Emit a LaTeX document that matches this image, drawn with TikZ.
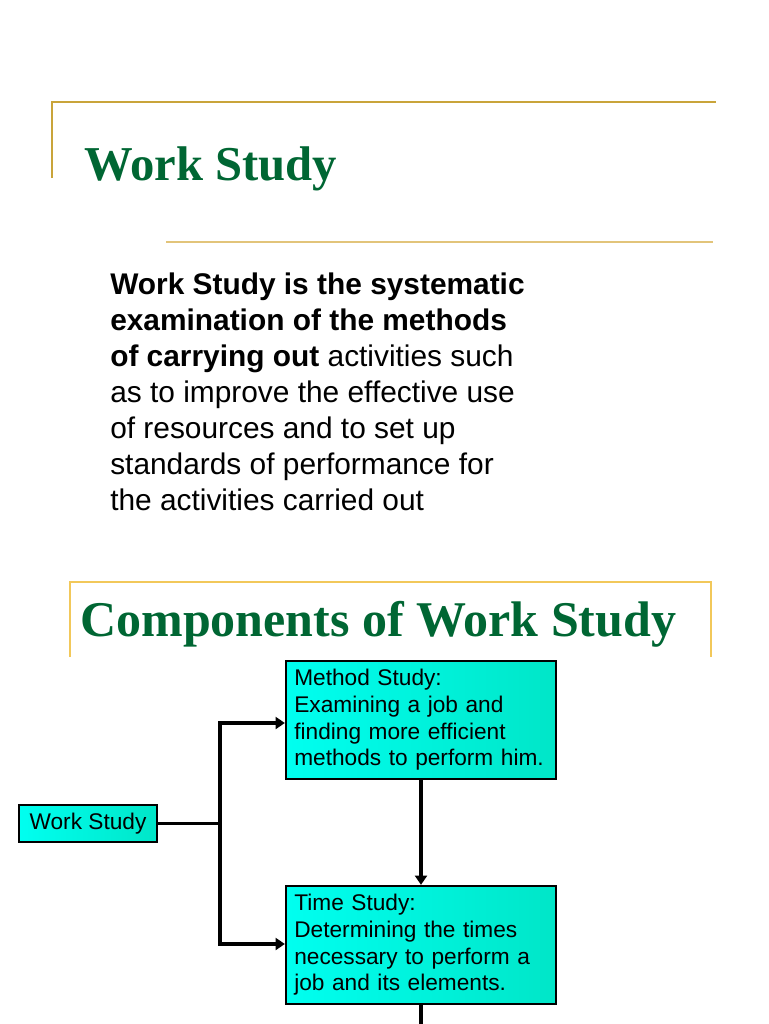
\documentclass[tikz,border=0pt]{standalone}
\usepackage{fontspec}
\setmainfont{Liberation Serif}
\setsansfont{Liberation Sans}
\usetikzlibrary{arrows.meta}
\definecolor{goldA}{HTML}{C9A43A}
\definecolor{goldB}{HTML}{E2C47A}
\definecolor{goldC}{HTML}{F2C85A}
\definecolor{titlegreen}{HTML}{006633}
\definecolor{cyanL}{HTML}{00FFF0}
\definecolor{cyanR}{HTML}{00E6C8}
\tikzset{
  cbox/.style={draw=black, line width=1.7pt, left color=cyanL, right color=cyanR,
    rectangle, inner sep=0pt, font=\sffamily\fontsize{17}{20}\selectfont, align=left},
  conn/.style={line width=2.6pt, line cap=rect},
  arr/.style={line width=2.6pt, -{Triangle[length=7pt,width=9pt]}},
  heading/.style={font=\bfseries\fontsize{36.5}{40}\selectfont, text=titlegreen, inner sep=0pt, anchor=base west},
}
\begin{document}
\begin{tikzpicture}[x=0.75pt,y=-0.75pt]
\useasboundingbox (0,0) rectangle (768,1024);
% top frame
\draw[goldA, line width=1.6pt] (52,178) -- (52,102) -- (716,102);
\draw[goldB, line width=1.6pt] (166,242) -- (713,242);
\node[heading] (t1) at (84,180) {Work Study};
% body text
\node[anchor=north west, inner sep=0pt, align=left, font=\sffamily\fontsize{22.4}{27}\selectfont] (body) at (110,273)
 {\textbf{Work Study is the systematic}\\
  \textbf{examination of the methods}\\
  \textbf{of carrying out} activities such\\
  as to improve the effective use\\
  of resources and to set up\\
  standards of performance for\\
  the activities carried out};
% second frame
\draw[goldC, line width=0.8pt] (70,657) -- (70,582) -- (711,582) -- (711,657);
\node[heading, font=\bfseries\fontsize{37.5}{42}\selectfont] (t2) at (80,636) {Components of Work Study};
% boxes
\node[cbox, minimum width=103.5pt, minimum height=27.75pt, align=center] (ws) at (88,823.5) {Work Study};
\node[cbox, minimum width=202.5pt, minimum height=88.5pt, text width=190pt] (ms) at (421,720)
 {Method Study:\\Examining a job and\\finding more efficient\\methods to perform him.};
\node[cbox, minimum width=202.5pt, minimum height=88.5pt, text width=190pt] (ts) at (421,945)
 {Time Study:\\Determining the times\\necessary to perform a\\job and its elements.};
\coordinate (br) at (220,823.5);
\coordinate (end) at (421,1030);
% connectors
\draw[conn] (ws.east) -- (br);
\draw[arr] (br) |- (ms.west |- 0,723);
\draw[arr] (br) |- (ts.west |- 0,944);
\draw[arr] (ms.south) -- (ts.north);
\draw[conn] (ts.south) -- (end);
\end{tikzpicture}
\end{document}
